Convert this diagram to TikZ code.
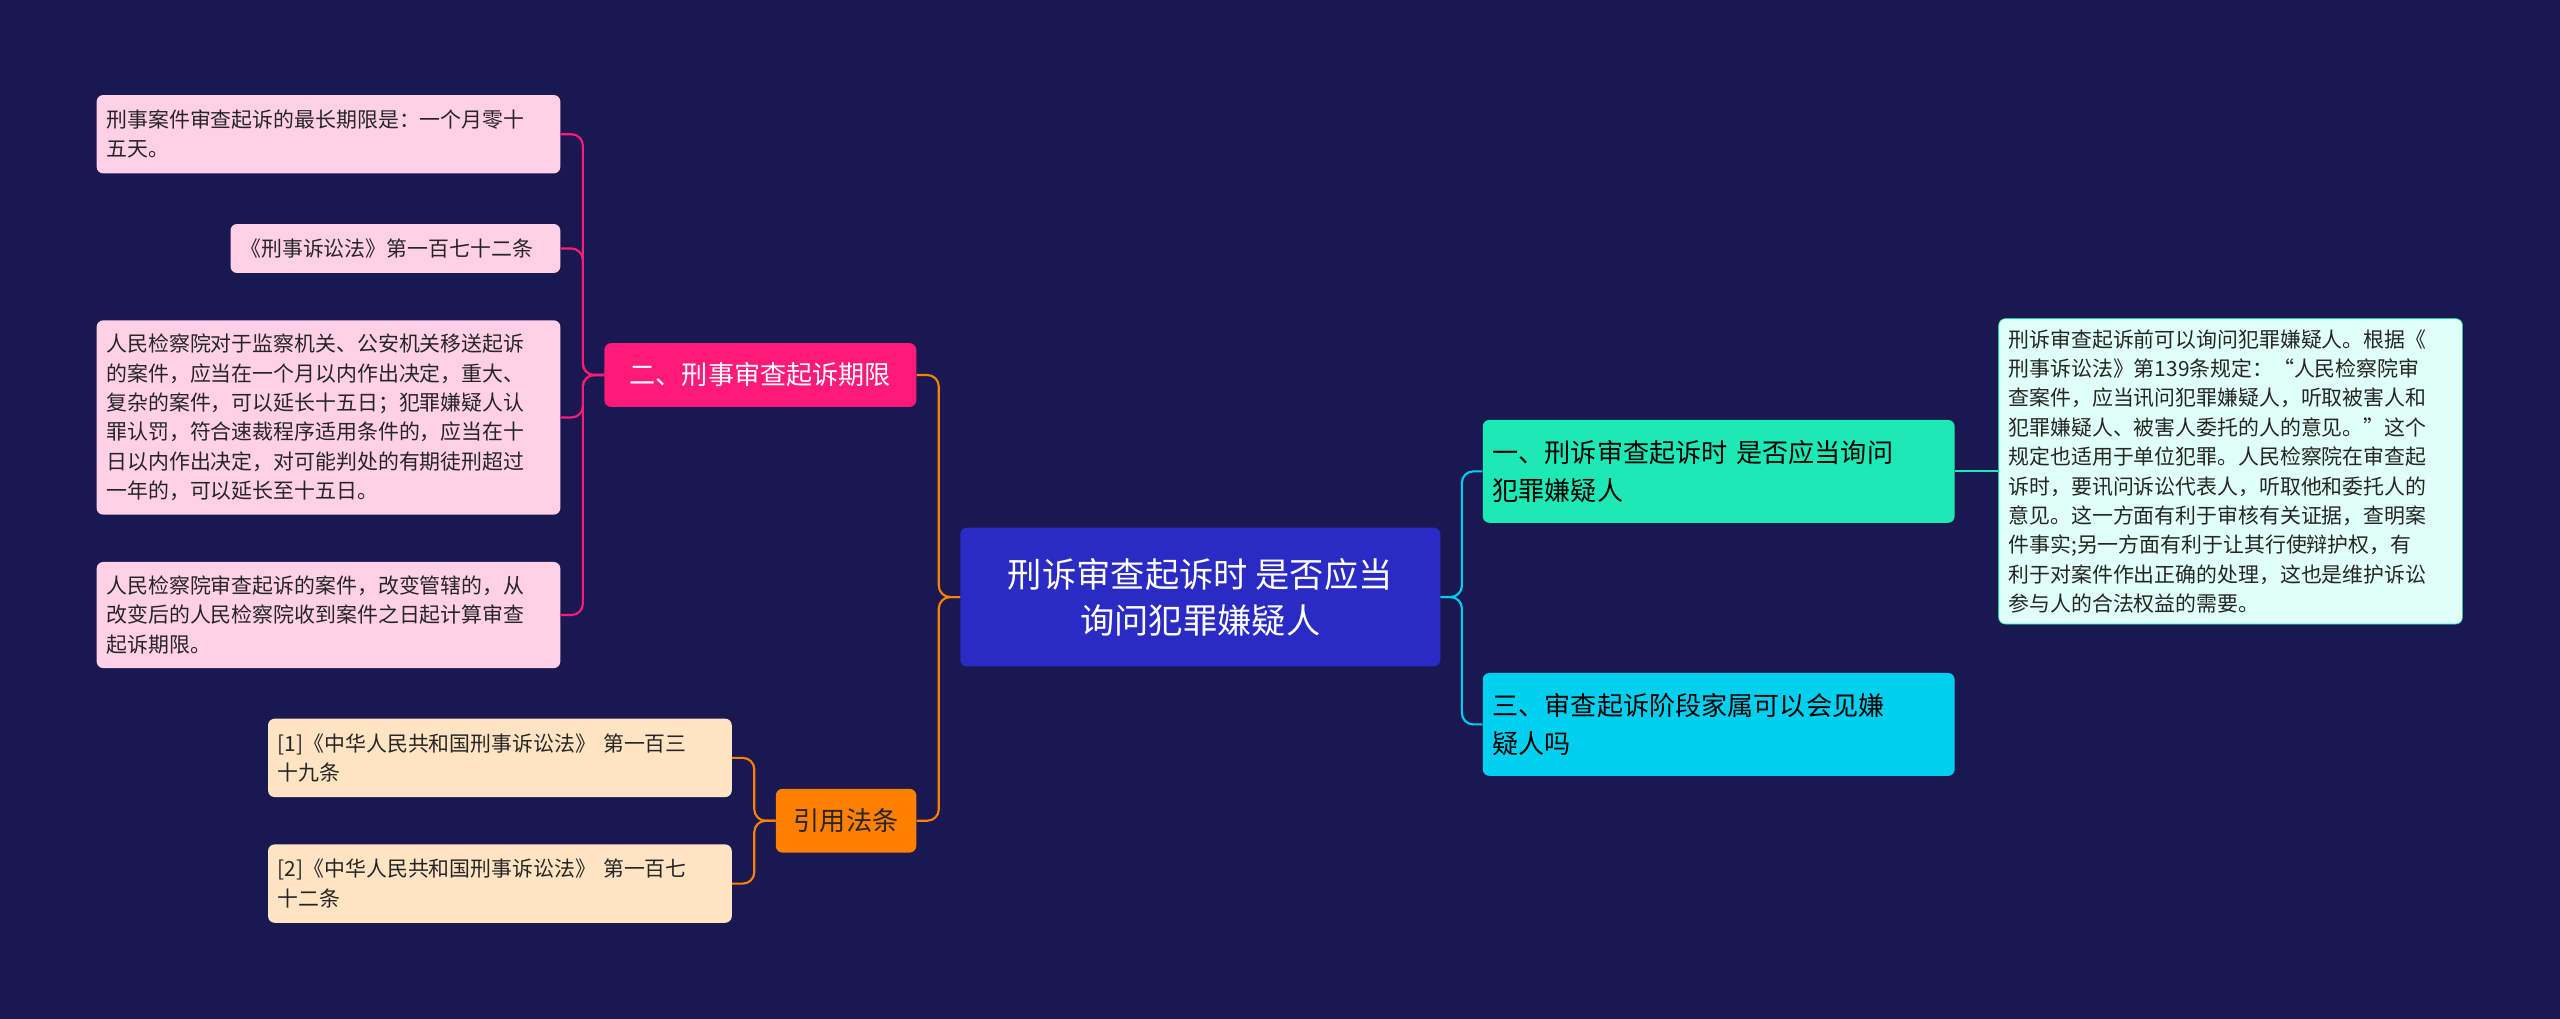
\documentclass[tikz,border=0pt]{standalone}
\usepackage{fontspec}
\newfontfamily\cjk{Noto Sans CJK SC}
\definecolor{bg}{HTML}{1A1850}
\definecolor{rootc}{HTML}{2A2AC4}
\definecolor{teal}{HTML}{1DE9B6}
\definecolor{cyanc}{HTML}{00D0F0}
\definecolor{mint}{HTML}{E0FFF6}
\definecolor{pinkc}{HTML}{FF1A7A}
\definecolor{pinkl}{HTML}{FFD0E6}
\definecolor{orangec}{HTML}{FF7F00}
\definecolor{peach}{HTML}{FFE4C4}
\tikzset{
 box/.style={rounded corners=4pt,inner xsep=6pt,inner ysep=2pt,anchor=north west,font=\cjk},
 leaf/.style={box,font=\cjk\fontsize{12.8}{18}\selectfont,align=left,text=black!85},
 conn/.style={line width=1.3pt,rounded corners=7pt}
}
\begin{document}
\begin{tikzpicture}[x=1pt,y=-1pt]
\fill[bg] (0,0) rectangle (1568,624);
\useasboundingbox (0,0) rectangle (1568,624);
% root
\node[box,fill=rootc,minimum width=294pt,minimum height=85pt,text=white,font=\cjk\fontsize{21}{28}\selectfont,align=center] (root) at (588,323) {刑诉审查起诉时 是否应当\\询问犯罪嫌疑人};
% right
\node[box,fill=teal,minimum width=289pt,minimum height=63pt,font=\cjk\fontsize{16}{23}\selectfont,align=left,text width=277pt] (r1) at (908,257) {一、刑诉审查起诉时 是否应当询问\\犯罪嫌疑人};
\node[box,fill=cyanc,minimum width=289pt,minimum height=63pt,font=\cjk\fontsize{16}{23}\selectfont,align=left,text width=277pt] (r2) at (908,412) {三、审查起诉阶段家属可以会见嫌\\疑人吗};
\node[leaf,fill=mint,draw=teal,minimum width=284pt,minimum height=187pt,text width=272pt] (r1a) at (1224,195) {刑诉审查起诉前可以询问犯罪嫌疑人。根据《\\刑事诉讼法》第139条规定：“人民检察院审\\查案件，应当讯问犯罪嫌疑人，听取被害人和\\犯罪嫌疑人、被害人委托的人的意见。”这个\\规定也适用于单位犯罪。人民检察院在审查起\\诉时，要讯问诉讼代表人，听取他和委托人的\\意见。这一方面有利于审核有关证据，查明案\\件事实;另一方面有利于让其行使辩护权，有\\利于对案件作出正确的处理，这也是维护诉讼\\参与人的合法权益的需要。};
% left
\node[box,fill=pinkc,minimum width=191pt,minimum height=39pt,text=white,font=\cjk\fontsize{16}{20}\selectfont] (l1) at (370,210) {二、刑事审查起诉期限};
\node[box,fill=orangec,minimum width=86pt,minimum height=39pt,text=black!85,font=\cjk\fontsize{16}{20}\selectfont] (l2) at (475,483) {引用法条};
\node[leaf,fill=pinkl,minimum width=284pt,minimum height=48pt,text width=272pt] (a1) at (59,58) {刑事案件审查起诉的最长期限是：一个月零十\\五天。};
\node[leaf,fill=pinkl,minimum width=202pt,minimum height=30pt,text width=190pt] (a2) at (141,137) {《刑事诉讼法》第一百七十二条};
\node[leaf,fill=pinkl,minimum width=284pt,minimum height=119pt,text width=272pt] (a3) at (59,196) {人民检察院对于监察机关、公安机关移送起诉\\的案件，应当在一个月以内作出决定，重大、\\复杂的案件，可以延长十五日；犯罪嫌疑人认\\罪认罚，符合速裁程序适用条件的，应当在十\\日以内作出决定，对可能判处的有期徒刑超过\\一年的，可以延长至十五日。};
\node[leaf,fill=pinkl,minimum width=284pt,minimum height=65pt,text width=272pt] (a4) at (59,344) {人民检察院审查起诉的案件，改变管辖的，从\\改变后的人民检察院收到案件之日起计算审查\\起诉期限。};
\node[leaf,fill=peach,minimum width=284pt,minimum height=48pt,text width=272pt] (b1) at (164,440) {[1]《中华人民共和国刑事诉讼法》 第一百三\\十九条};
\node[leaf,fill=peach,minimum width=284pt,minimum height=48pt,text width=272pt] (b2) at (164,517) {[2]《中华人民共和国刑事诉讼法》 第一百七\\十二条};
% connectors
\draw[conn,cyanc] (root.east) -- ++(13,0) |- (r1.west);
\draw[conn,cyanc] (root.east) -- ++(13,0) |- (r2.west);
\draw[conn,teal] (r1.east) -- (r1a.west|-r1.east);
\draw[conn,orangec] (root.west) -- ++(-13,0) |- (l1.east);
\draw[conn,orangec] (root.west) -- ++(-13,0) |- (l2.east);
\foreach \n in {a1,a2,a3,a4}{\draw[conn,pinkc] (l1.west) -- ++(-13,0) |- (\n.east);}
\foreach \n in {b1,b2}{\draw[conn,orangec] (l2.west) -- ++(-13,0) |- (\n.east);}
\end{tikzpicture}
\end{document}
